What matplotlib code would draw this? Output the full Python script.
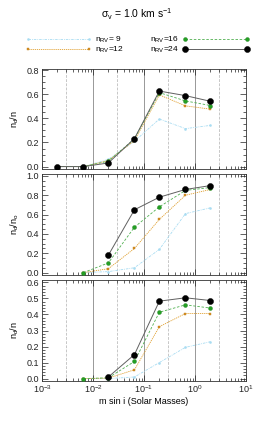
#!/usr/bin/env python3
"""Detection fractions vs. minimum mass for several RV sample sizes."""

import numpy as np
import matplotlib
matplotlib.use('Agg')
import matplotlib.pyplot as plt
from matplotlib.ticker import LogLocator, MultipleLocator, NullFormatter

plt.rcParams['font.family'] = ['Liberation Sans', 'DejaVu Sans']
plt.rcParams['mathtext.fontset'] = 'custom'
plt.rcParams['mathtext.rm'] = 'Liberation Sans'
plt.rcParams['mathtext.it'] = 'Liberation Sans'
plt.rcParams['axes.unicode_minus'] = False

nan = np.nan

# mass bins (Solar Masses)
masses = [0.002, 0.0065, 0.02, 0.065, 0.2, 0.65, 2.0]

# top panel: n_d/n
top_nrv9 = [0, 0, 0.06, 0.21, 0.395, 0.315, 0.342]
top_nrv12 = [0, 0, 0.05, 0.216, 0.595, 0.504, 0.477]
top_nrv16 = [0, 0, 0.045, 0.23, 0.614, 0.545, 0.507]
top_nrv24 = [0, 0, 0.03, 0.233, 0.627, 0.589, 0.542]

# middle panel: n_d/n_o
mid_nrv9 = [nan, 0, 0.01, 0.05, 0.24, 0.61, 0.67]
mid_nrv12 = [nan, 0, 0.04, 0.25, 0.55, 0.80, 0.86]
mid_nrv16 = [nan, 0, 0.10, 0.47, 0.68, 0.85, 0.88]
mid_nrv24 = [nan, nan, 0.18, 0.65, 0.78, 0.86, 0.90]

# bottom panel: n_d/n
bot_nrv9 = [nan, 0, 0.0, 0.01, 0.10, 0.195, 0.23]
bot_nrv12 = [nan, 0, 0.003, 0.055, 0.324, 0.406, 0.406]
bot_nrv16 = [nan, 0, 0.005, 0.107, 0.414, 0.46, 0.44]
bot_nrv24 = [nan, nan, 0.01, 0.15, 0.483, 0.504, 0.487]

series_labels = ['n$_{\\rm RV}$= 9', 'n$_{\\rm RV}$=12', 'n$_{\\rm RV}$=16', 'n$_{\\rm RV}$=24']
ylabels = ['n$_{\\rm d}$/n', 'n$_{\\rm d}$/n$_{\\rm o}$', 'n$_{\\rm d}$/n']
ylims = [(-0.02, 0.81), (-0.025, 1.02), (-0.015, 0.615)]
ymajor = [0.2, 0.2, 0.1]
yminor = [0.05, 0.05, 0.02]
decades = [1e-2, 1e-1, 1e0]
halves = [3e-3, 3e-2, 3e-1, 3e0]

# style per series: 9, 12, 16, 24
styles = [
    dict(color='#a8dcf2', ls=(0, (3, 1.2, 1, 1.2)), lw=0.6, marker='s', ms=0.8,
         mfc='#a8dcf2', mec='#a8dcf2'),
    dict(color='#e0a030', ls=(0, (1.5, 1)), lw=0.6, marker='s', ms=1.6,
         mfc='#d89020', mec='#c08020', mew=0.3),
    dict(color='#50b050', ls=(0, (3, 2)), lw=0.6, marker='o', ms=2.8,
         mfc='#23a023', mec='#1a801a', mew=0.3),
    dict(color='#606060', ls='-', lw=0.7, marker='o', ms=4.4,
         mfc='black', mec='black', mew=0.3),
]

panels = [
    [top_nrv9, top_nrv12, top_nrv16, top_nrv24],
    [mid_nrv9, mid_nrv12, mid_nrv16, mid_nrv24],
    [bot_nrv9, bot_nrv12, bot_nrv16, bot_nrv24],
]

fig = plt.figure(figsize=(2.74, 4.24), dpi=100)
left, right = 42 / 274, 246 / 274
tops = [69, 174, 280]
bots = [169, 275, 381]
fs = 6.5

axes = []
for p in range(3):
    y0 = 1 - bots[p] / 424
    h = (bots[p] - tops[p]) / 424
    ax = fig.add_axes([left, y0, right - left, h])
    axes.append(ax)

    for x in decades:
        ax.axvline(x, color='#707070', lw=0.5, zorder=0)
    for x in halves:
        ax.axvline(x, color='#b0b0b0', lw=0.5, ls=(0, (4, 2)), zorder=0)

    # black first, then the others over it
    order = [3, 0, 1, 2]
    for k in order:
        st = styles[k]
        ax.plot(masses, panels[p][k], label=series_labels[k], zorder=2 + k, **st)

    ax.set_xscale('log')
    ax.set_xlim(1e-3, 1e1)
    ax.set_ylim(*ylims[p])
    ax.yaxis.set_major_locator(MultipleLocator(ymajor[p]))
    ax.yaxis.set_minor_locator(MultipleLocator(yminor[p]))
    ax.yaxis.set_major_formatter(plt.FormatStrFormatter('%.1f'))
    ax.xaxis.set_major_locator(LogLocator(base=10, numticks=10))
    ax.xaxis.set_minor_locator(LogLocator(base=10, subs=np.arange(2, 10), numticks=10))
    ax.xaxis.set_minor_formatter(NullFormatter())
    ax.tick_params(which='both', direction='in', top=True, right=True,
                   labelsize=fs, pad=2, width=0.5, colors='#222222')
    ax.tick_params(which='major', length=4)
    ax.tick_params(which='minor', length=2)
    for s in ax.spines.values():
        s.set_linewidth(0.6)
        s.set_color('#333333')
    ax.set_ylabel(ylabels[p], fontsize=fs)
    ax.yaxis.set_label_coords(-0.105, 0.5)
    if p < 2:
        ax.tick_params(labelbottom=False)

axes[2].set_xlabel('m sin i (Solar Masses)', fontsize=fs, labelpad=1)

fig.text(0.5, 1 - 14 / 424, 'σ$_{\\rm v}$ = 1.0 km s$^{-1}$', ha='center', va='center',
         fontsize=7.5)

# legend: one entry per row, two columns (left: line then text, right: text then line)
handles, labels = axes[0].get_legend_handles_labels()
hmap = dict(zip(labels, handles))
row_y = [40, 50]
lfs = 6
for k, lab in enumerate(series_labels):
    col = k // 2
    yy = 1 - row_y[k % 2] / 424
    if col == 0:
        loc, xx, mfirst = 'center left', 25 / 274, True
    else:
        loc, xx, mfirst = 'center right', 249 / 274, False
    leg = fig.legend([hmap[lab]], [lab], loc=loc, bbox_to_anchor=(xx, yy),
                     frameon=False, fontsize=lfs, handlelength=8.0,
                     handletextpad=0.45, numpoints=2, borderpad=0,
                     borderaxespad=0, markerfirst=mfirst)

plt.savefig('out.png', dpi=100)
